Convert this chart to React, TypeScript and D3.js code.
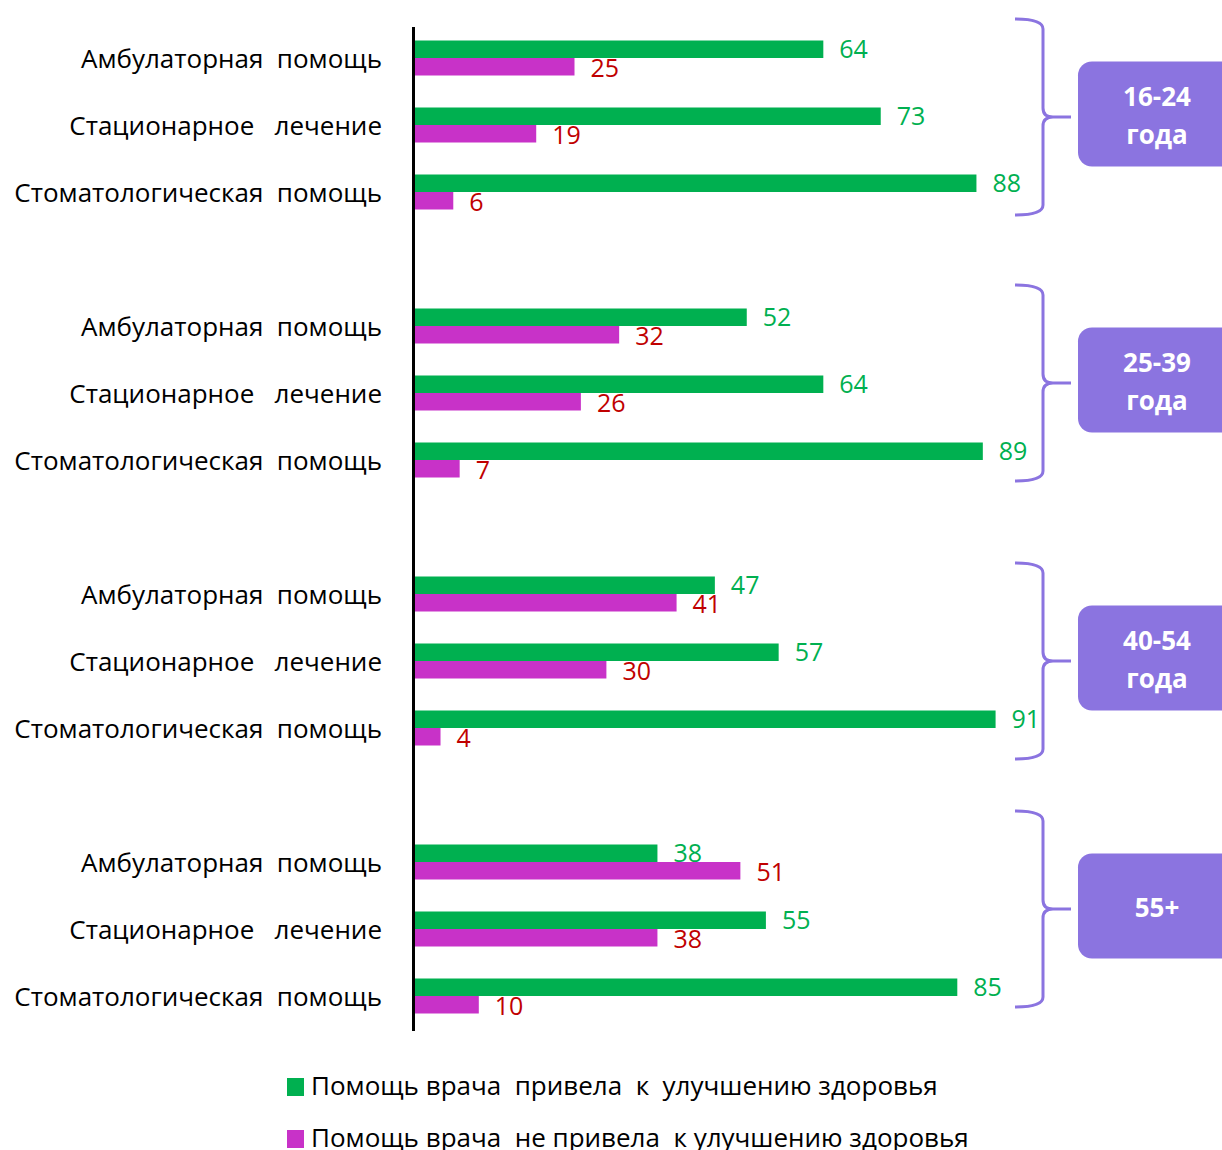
import React from "react";
import * as d3 from "d3";

const categories = ["Амбулаторная  помощь", "Стационарное   лечение", "Стоматологическая  помощь"];
const ageGroups = [["16-24", "года"], ["25-39", "года"], ["40-54", "года"], ["55+"]];
const improved = [
  [64, 73, 88],
  [52, 64, 89],
  [47, 57, 91],
  [38, 55, 85],
];
const notImproved = [
  [25, 19, 6],
  [32, 26, 7],
  [41, 30, 4],
  [51, 38, 10],
];
const legendLabels = [
  "Помощь врача  привела  к  улучшению здоровья",
  "Помощь врача  не привела  к улучшению здоровья",
];

const W = 1222;
const H = 1150;
const GREEN = "#00B050";
const MAGENTA = "#C832C8";
const RED = "#C00000";
const PURPLE = "#8B74E0";
const FONT = "'Open Sans', 'Noto Sans', sans-serif";

// small vertical nudges of the bracket annotations (as in the reference)
const bracketNudge = [-8, -10, 0, -20];

export default function App() {
  const slots = d3.range(16).map(String);
  const y = d3.scaleBand<string>().domain(slots).range([24.5, 24.5 + 16 * 67]).padding(0);
  const x = d3.scaleLinear().domain([0, 100]).range([415, 1053]);
  const bh = 17.5;

  const rows: { g: number; c: number; slot: number }[] = [];
  ageGroups.forEach((_, g) =>
    categories.forEach((_, c) => rows.push({ g, c, slot: g * 4 + c }))
  );
  const cy = (slot: number) => (y(String(slot)) as number) + y.bandwidth() / 2;

  return (
    <svg
      width={W}
      height={H}
      style={{ position: "absolute", left: 0, top: 0, display: "block", background: "#fff" }}
      fontFamily={FONT}
    >
      {rows.map(({ g, c, slot }) => {
        const m = cy(slot);
        const v1 = improved[g][c];
        const v2 = notImproved[g][c];
        return (
          <g key={slot}>
            <text
              x={382}
              y={m + 9.5}
              textAnchor="end"
              fontSize={26}
              fill="#000"
              style={{ whiteSpace: "pre" }}
            >
              {categories[c]}
            </text>
            <rect x={x(0)} y={m - bh} width={x(v1) - x(0)} height={bh} fill={GREEN} />
            <rect x={x(0)} y={m} width={x(v2) - x(0)} height={bh} fill={MAGENTA} />
            <text x={x(v1) + 16} y={m - bh / 2 + 9} fontSize={25} fill={GREEN}>
              {v1}
            </text>
            <text x={x(v2) + 16} y={m + bh / 2 + 10} fontSize={25} fill={RED}>
              {v2}
            </text>
          </g>
        );
      })}
      <line x1={413.5} x2={413.5} y1={27} y2={1031} stroke="#000" strokeWidth={3} />

      {ageGroups.map((lines, g) => {
        const cusp = cy(g * 4 + 1) + bracketNudge[g];
        const top = cusp - 98;
        const bot = cusp + 98;
        const xl = 1015;
        const xv = 1043;
        const xt = 1071;
        const d = [
          `M${xl},${top}`,
          `Q${xv},${top} ${xv},${top + 10}`,
          `L${xv},${cusp - 9}`,
          `Q${xv},${cusp} ${xv + 10},${cusp}`,
          `L${xt},${cusp}`,
          `M${xv + 10},${cusp}`,
          `Q${xv},${cusp} ${xv},${cusp + 9}`,
          `L${xv},${bot - 10}`,
          `Q${xv},${bot} ${xl},${bot}`,
        ].join(" ");
        const bc = cusp - 3;
        return (
          <g key={g}>
            <path d={d} fill="none" stroke={PURPLE} strokeWidth={3} />
            <rect x={1078} y={bc - 52.5} width={160} height={105} rx={14} fill={PURPLE} />
            {lines.map((t, i) => (
              <text
                key={i}
                x={1157}
                y={lines.length === 1 ? bc + 1 : bc - 18 + i * 38}
                textAnchor="middle"
                dominantBaseline="central"
                fontSize={26}
                fontWeight="bold"
                fill="#fff"
              >
                {t}
              </text>
            ))}
          </g>
        );
      })}

      {legendLabels.map((t, i) => (
        <g key={i}>
          <rect x={287} y={1078 + i * 52} width={17} height={18} fill={i === 0 ? GREEN : MAGENTA} />
          <text
            x={311}
            y={1095 + i * 52}
            fontSize={26}
            fill="#000"
            style={{ whiteSpace: "pre" }}
          >
            {t}
          </text>
        </g>
      ))}
    </svg>
  );
}
